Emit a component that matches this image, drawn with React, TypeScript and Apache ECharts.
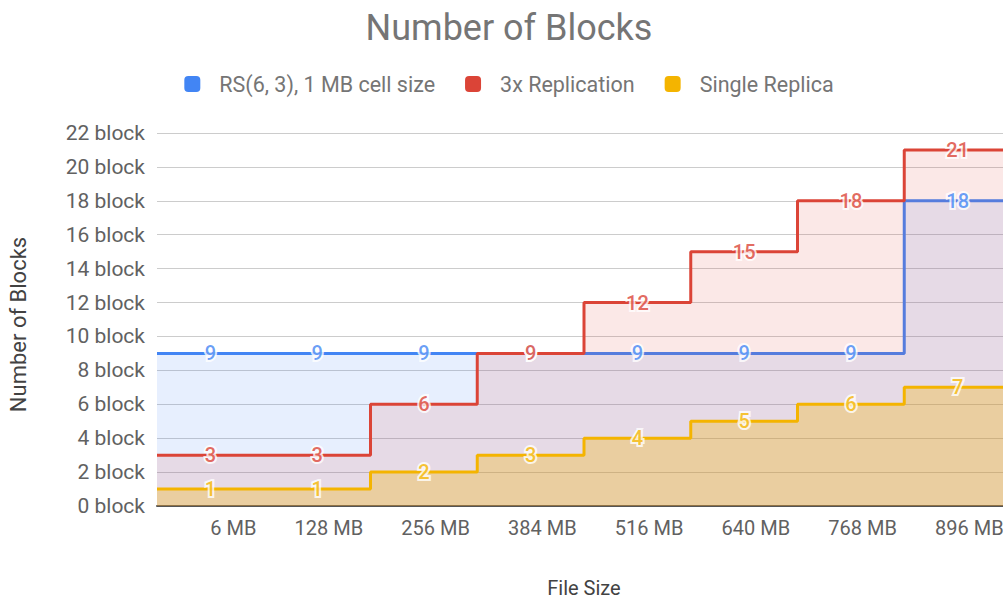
import React, { useEffect, useRef } from "react";
import * as echarts from "echarts";

const categories = ["6 MB", "128 MB", "256 MB", "384 MB", "516 MB", "640 MB", "768 MB", "896 MB"];
const rsValues = [9, 9, 9, 9, 9, 9, 9, 18];
const replicationValues = [3, 3, 6, 9, 12, 15, 18, 21];
const singleValues = [1, 1, 2, 3, 4, 5, 6, 7];
const yTicks = [0, 2, 4, 6, 8, 10, 12, 14, 16, 18, 20, 22];

const FONT = "Roboto, 'Noto Sans', sans-serif";

const seriesDefs = [
  { name: "RS(6, 3), 1 MB cell size", values: rsValues, color: "#4285f4", areaOpacity: 0.13 },
  { name: "3x Replication", values: replicationValues, color: "#db4437", areaOpacity: 0.12 },
  { name: "Single Replica", values: singleValues, color: "#f4b400", areaOpacity: 0.3 },
];

function stepData(values: number[]) {
  const pts = values.map((v, i) => [i, v]);
  pts.push([values.length, values[values.length - 1]]);
  return pts;
}

function labelData(values: number[]) {
  return values.map((v, i) => [i + 0.5, v]);
}

export default function App() {
  const ref = useRef<HTMLDivElement>(null);

  useEffect(() => {
    if (!ref.current) return;
    const chart = echarts.init(ref.current, undefined, { renderer: "svg" });

    const lineSeries = seriesDefs.map((s, idx) => ({
      name: s.name,
      type: "line",
      xAxisIndex: 1,
      yAxisIndex: 0,
      step: "end",
      data: stepData(s.values),
      showSymbol: false,
      symbol: "none",
      lineStyle: { color: s.color, width: 3 },
      itemStyle: { color: s.color },
      areaStyle: { color: s.color, opacity: s.areaOpacity },
      z: 2 + idx,
    }));

    const labelSeries = seriesDefs.map((s, idx) => ({
      name: "label-" + idx,
      type: "scatter",
      xAxisIndex: 1,
      yAxisIndex: 0,
      data: labelData(s.values),
      symbol: "circle",
      symbolSize: 1,
      itemStyle: { color: "transparent" },
      label: {
        show: true,
        position: "inside",
        formatter: (p: any) => String(p.value[1]),
        color: s.color,
        fontSize: 20,
        fontFamily: FONT,
        fontWeight: 500,
        textBorderColor: "#ffffff",
        textBorderWidth: 4,
      },
      emphasis: { disabled: true },
      z: 10 + idx,
    }));

    chart.setOption({
      animation: false,
      backgroundColor: "#ffffff",
      title: {
        text: "Number of Blocks",
        left: "center",
        top: 5,
        textStyle: { fontSize: 36, fontWeight: "normal", color: "#757575", fontFamily: FONT },
      },
      legend: {
        data: seriesDefs.map((s) => ({ name: s.name, icon: "roundRect" })),
        top: 68,
        left: "center",
        itemWidth: 16,
        itemHeight: 16,
        itemGap: 30,
        textStyle: { fontSize: 21.5, color: "#757575", fontFamily: FONT, padding: [0, 0, 0, 14] },
      },
      grid: { left: 157, right: 7, top: 133, bottom: 93, containLabel: false, outerBoundsMode: "none" },
      xAxis: [
        {
          type: "category",
          data: categories,
          boundaryGap: true,
          axisLine: { show: true, lineStyle: { color: "#555555", width: 2 } },
          axisTick: { show: false },
          axisLabel: {
            interval: 0,
            hideOverlap: false,
            fontSize: 20,
            color: "#616161",
            fontFamily: FONT,
            margin: 12,
            align: "center",
            formatter: (v: string) => `{r|${v}}`,
            rich: { r: { width: 92, align: "right", fontSize: 20, color: "#616161", fontFamily: FONT } },
          },
          name: "File Size",
          nameLocation: "middle",
          nameGap: 72,
          nameTextStyle: { fontSize: 20, color: "#424242", fontFamily: FONT },
          z: 1,
        },
        {
          type: "value",
          min: 0,
          max: categories.length,
          show: false,
        },
      ],
      yAxis: {
        type: "value",
        min: 0,
        max: yTicks[yTicks.length - 1],
        interval: 2,
        axisLine: { show: false },
        axisTick: { show: false },
        axisLabel: {
          fontSize: 21,
          color: "#616161",
          fontFamily: FONT,
          margin: 12,
          formatter: (v: number) => `${v} block`,
        },
        splitLine: { lineStyle: { color: "#cccccc", width: 1 } },
        name: "Number of Blocks",
        nameLocation: "middle",
        nameGap: 128,
        nameTextStyle: { fontSize: 22, color: "#424242", fontFamily: FONT, padding: [0, 10, 0, 0] },
      },
      series: [...lineSeries, ...labelSeries],
    });

    return () => chart.dispose();
  }, []);

  return (
    <div
      ref={ref}
      style={{ position: "fixed", left: 0, top: 0, width: 1018, height: 599, background: "#fff" }}
    />
  );
}
